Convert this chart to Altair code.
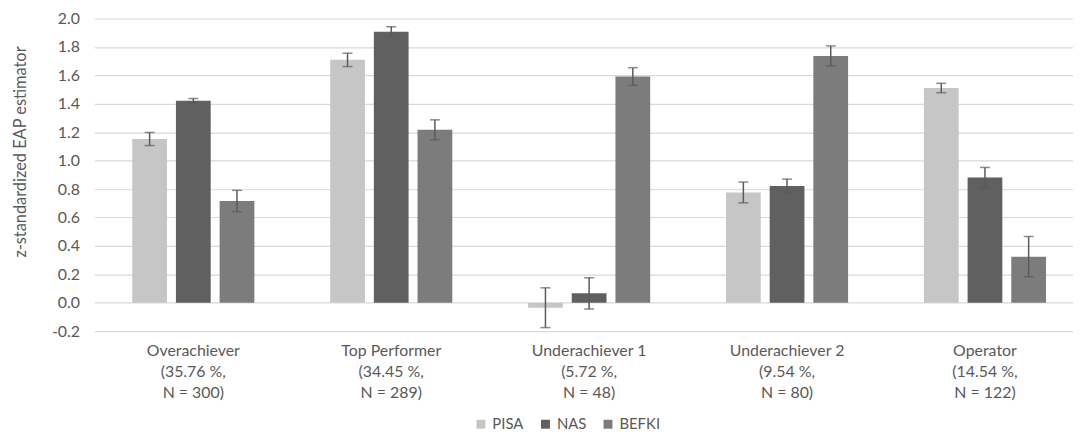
import altair as alt
import pandas as pd

groups = [
    "Overachiever|(35.76 %,|N = 300)",
    "Top Performer|(34.45 %,|N = 289)",
    "Underachiever 1|(5.72 %,|N = 48)",
    "Underachiever 2|(9.54 %,|N = 80)",
    "Operator|(14.54 %,|N = 122)",
]
tests = ["PISA", "NAS", "BEFKI"]

pisa = [1.152, 1.709, -0.035, 0.776, 1.511]
pisa_err = [0.046, 0.047, 0.14, 0.073, 0.033]
nas = [1.422, 1.907, 0.066, 0.821, 0.881]
nas_err = [0.015, 0.035, 0.11, 0.049, 0.071]
befki = [0.716, 1.217, 1.592, 1.737, 0.324]
befki_err = [0.075, 0.07, 0.062, 0.07, 0.142]

y_ticks = [-0.2, 0.0, 0.2, 0.4, 0.6, 0.8, 1.0, 1.2, 1.4, 1.6, 1.8, 2.0]

rows = []
for t, vals, errs in [("PISA", pisa, pisa_err), ("NAS", nas, nas_err), ("BEFKI", befki, befki_err)]:
    for g, v, e in zip(groups, vals, errs):
        rows.append({"group": g, "test": t, "value": v, "lo": v - e, "hi": v + e})
df = pd.DataFrame(rows)

FONT = "Lato"
TXT = "#595959"

x_enc = alt.X(
    "group:N",
    sort=groups,
    scale=alt.Scale(domain=groups, range=[0, 997], paddingInner=0.383, paddingOuter=0.1915),
    axis=alt.Axis(
        title=None,
        labelExpr="split(datum.value, '|')",
        labelAngle=0,
        labelFontSize=16,
        labelLineHeight=21,
        labelPadding=12,
        labelColor=TXT,
        labelFont=FONT,
        domain=False,
        ticks=False,
        grid=False,
    ),
)
xo_enc = alt.XOffset(
    "test:N",
    sort=tests,
    scale=alt.Scale(domain=tests, paddingInner=0.2045, paddingOuter=0),
)
y_scale = alt.Scale(domain=[-0.2, 2.0], nice=False, zero=False)
y_axis = alt.Axis(
    title="z-standardized EAP estimator",
    values=y_ticks,
    labelExpr="replace(format(datum.value, '.1f'), '\u2212', '-')",
    labelOverlap=False,
    labelFontSize=16,
    labelColor=TXT,
    labelFont=FONT,
    labelPadding=15,
    ticks=False,
    tickSize=0,
    domain=False,
    grid=True,
    gridColor="#d9d9d9",
    gridWidth=1.2,
    titleFontSize=16.5,
    titleFont=FONT,
    titleFontWeight="normal",
    titleColor=TXT,
    titleX=-66,
    titleY=134,
    titleAlign="center",
)

base = alt.Chart(df).encode(x=x_enc, xOffset=xo_enc)

bars = base.mark_bar().encode(
    y=alt.Y("value:Q", scale=y_scale, axis=y_axis),
    y2=alt.datum(0),
    color=alt.Color(
        "test:N",
        sort=tests,
        scale=alt.Scale(domain=tests, range=["#c6c6c6", "#606060", "#7c7c7c"]),
        legend=alt.Legend(
            title=None,
            orient="none",
            direction="horizontal",
            legendX=382,
            legendY=401,
            symbolType="square",
            symbolSize=81,
            symbolStrokeWidth=0,
            labelFontSize=15,
            labelFont=FONT,
            labelColor=TXT,
            labelOffset=4,
            columnPadding=14,
            padding=0,
        ),
    ),
)

err_color = "#5a5a5a"
rules = base.mark_rule(color=err_color, strokeWidth=1.5).encode(
    y=alt.Y("lo:Q", scale=y_scale, axis=y_axis), y2="hi:Q"
)
cap_lo = base.mark_tick(color=err_color, orient="horizontal", size=10, thickness=1.5).encode(
    y=alt.Y("lo:Q", scale=y_scale, axis=y_axis)
)
cap_hi = base.mark_tick(color=err_color, orient="horizontal", size=10, thickness=1.5).encode(
    y=alt.Y("hi:Q", scale=y_scale, axis=y_axis)
)

chart = (
    alt.layer(bars, rules, cap_lo, cap_hi)
    .properties(
        width=986,
        height=315,
        padding={"left": 87, "top": 9, "right": 0, "bottom": 100},
        autosize=alt.AutoSizeParams(type="none"),
        background="white",
    )
    .configure_view(stroke=None)
)

chart.save("out.html", embed_options={"renderer": "svg", "actions": False})
